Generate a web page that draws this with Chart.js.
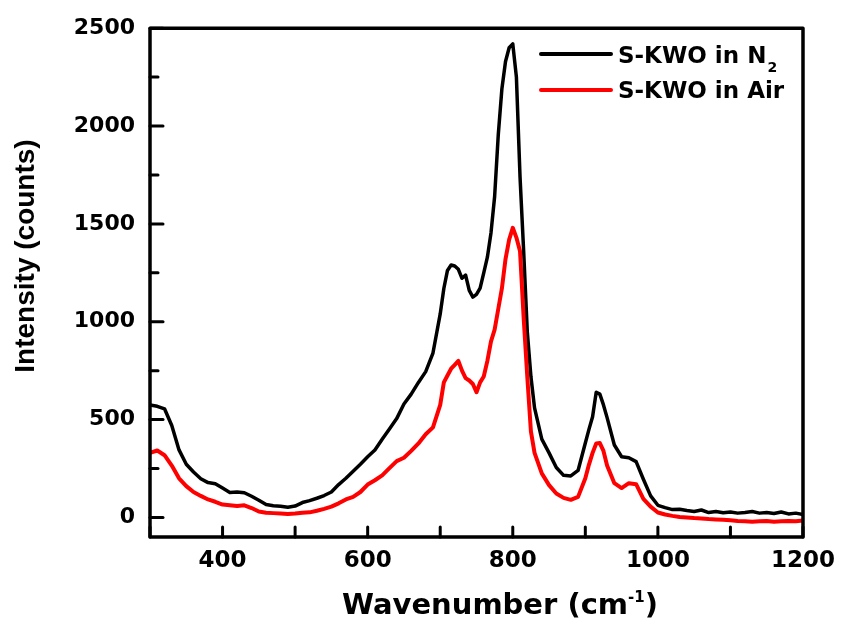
<!DOCTYPE html>
<html>
<head>
<meta charset="utf-8">
<script src="https://cdn.jsdelivr.net/npm/chart.js@4"></script>
<style>
  html, body { margin: 0; padding: 0; background: #fff; }
  #wrap { width: 845px; height: 624px; position: relative; }
</style>
</head>
<body>
<div id="wrap"><canvas id="ramanChart"></canvas></div>
<script>
// Raman spectra, wavenumber in cm-1
const wavenumbers = [
  300, 310, 320, 330, 340, 350, 360, 370, 380, 390,
  400, 410, 420, 430, 440, 450, 460, 470, 480, 490,
  500, 510, 520, 530, 540, 550, 560, 570, 580, 590,
  600, 610, 620, 630, 640, 650, 660, 670, 680, 690,
  700, 705, 710, 715, 720, 725, 730, 735, 740, 745,
  750, 755, 760, 765, 770, 775, 780, 785, 790, 795,
  800, 805, 810, 815, 820, 825, 830,
  840, 850, 860, 870, 880, 890,
  900, 905, 910, 915, 920, 925, 930,
  940, 950, 960, 970, 980, 990, 1000, 1010, 1020, 1030,
  1040, 1050, 1060, 1070, 1080, 1090, 1100, 1110, 1120, 1130,
  1140, 1150, 1160, 1170, 1180, 1190, 1200,
];

const countsN2 = [
  575, 568, 555, 470, 345, 272, 232, 198, 178, 172,
  150, 128, 130, 126, 108, 88, 66, 60, 57, 52,
  58, 76, 86, 98, 112, 130, 168, 200, 236, 272,
  310, 345, 400, 452, 505, 580, 630, 690, 745, 840,
  1040, 1170, 1262, 1290, 1285, 1268, 1222, 1238, 1160, 1126,
  1140, 1172, 1250, 1330, 1455, 1640, 1955, 2190, 2330, 2400,
  2420, 2250, 1740, 1360, 950, 720, 560,
  400, 330, 255, 215, 212, 240,
  380, 450, 515, 640, 630, 575, 510,
  370, 310, 305, 285, 195, 110, 62, 50, 40, 42,
  35, 30, 38, 25, 30, 24, 28, 22, 25, 30,
  22, 25, 20, 28, 18, 22, 15,
];

const countsAir = [
  330, 342, 318, 265, 200, 160, 130, 110, 92, 80,
  66, 62, 58, 62, 48, 30, 24, 22, 20, 18,
  20, 24, 26, 34, 44, 55, 72, 92, 105, 130,
  168, 190, 215, 252, 288, 305, 340, 378, 425, 460,
  575, 690, 725, 760, 780, 800, 750, 712, 700, 682,
  640, 690, 720, 800, 900, 960, 1065, 1170, 1320, 1420,
  1480, 1430, 1360, 1020, 720, 440, 330,
  225, 165, 122, 100, 90, 105,
  200, 270, 330, 378, 380, 340, 265,
  175, 150, 175, 170, 95, 55, 25, 15, 8, 2,
  0, -3, -5, -8, -10, -12, -15, -18, -20, -22,
  -20, -18, -22, -20, -18, -20, -15,
];

const xTicks = [300, 400, 500, 600, 700, 800, 900, 1000, 1100, 1200];
const yTicks = [0, 250, 500, 750, 1000, 1250, 1500, 1750, 2000, 2250, 2500];

const legendItems = [
  { text: 'S-KWO in N', sub: '2', color: '#000000' },
  { text: 'S-KWO in Air', sub: '', color: '#ff0000' },
];

const toPoints = (ys) => wavenumbers.map((x, i) => ({ x, y: ys[i] }));

// frame, inward ticks, axis titles and legend
const decorations = {
  id: 'decorations',
  afterDatasetsDraw(chart) {
    const { ctx, chartArea } = chart;
    const { left, right, top, bottom } = chartArea;
    const xs = chart.scales.x;
    const ys = chart.scales.y;

    ctx.save();
    ctx.strokeStyle = '#000';
    ctx.lineCap = 'round';

    // ticks point into the plot
    ctx.lineWidth = 3;
    xTicks.forEach((v) => {
      const px = xs.getPixelForValue(v);
      ctx.beginPath();
      ctx.moveTo(px, bottom);
      ctx.lineTo(px, bottom - 10);
      ctx.stroke();
    });
    yTicks.forEach((v) => {
      const py = ys.getPixelForValue(v);
      const len = v % 500 === 0 ? 13 : 8;
      ctx.beginPath();
      ctx.moveTo(left, py);
      ctx.lineTo(left + len, py);
      ctx.stroke();
    });

    ctx.lineWidth = 3.5;
    ctx.lineJoin = 'round';
    ctx.strokeRect(left, top, right - left, bottom - top);

    // legend
    ctx.textBaseline = 'alphabetic';
    ctx.textAlign = 'left';
    const rows = [
      { line: 54, base: 63 },
      { line: 90, base: 98 },
    ];
    legendItems.forEach((item, i) => {
      ctx.strokeStyle = item.color;
      ctx.lineWidth = 4;
      ctx.beginPath();
      ctx.moveTo(541, rows[i].line);
      ctx.lineTo(611, rows[i].line);
      ctx.stroke();
      ctx.fillStyle = '#000';
      ctx.font = 'bold 23px "DejaVu Sans"';
      ctx.fillText(item.text, 618, rows[i].base);
      if (item.sub) {
        const w = ctx.measureText(item.text).width;
        ctx.font = 'bold 14px "DejaVu Sans"';
        ctx.fillText(item.sub, 618 + w + 1, rows[i].base + 9);
      }
    });

    // x title with superscript
    ctx.fillStyle = '#000';
    const main = 'Wavenumber (cm';
    const sup = '-1';
    const tail = ')';
    ctx.font = 'bold 29px "DejaVu Sans"';
    const wMain = ctx.measureText(main).width;
    const wTail = ctx.measureText(tail).width;
    ctx.font = 'bold 15px "DejaVu Sans"';
    const wSup = ctx.measureText(sup).width;
    let tx = 500 - (wMain + wSup + wTail) / 2;
    ctx.font = 'bold 29px "DejaVu Sans"';
    ctx.fillText(main, tx, 614);
    tx += wMain;
    ctx.font = 'bold 15px "DejaVu Sans"';
    ctx.fillText(sup, tx, 602);
    tx += wSup;
    ctx.font = 'bold 29px "DejaVu Sans"';
    ctx.fillText(tail, tx, 614);

    // y title
    ctx.translate(26, 256);
    ctx.rotate(-Math.PI / 2);
    ctx.textAlign = 'center';
    ctx.textBaseline = 'middle';
    ctx.font = 'bold 28px "Liberation Sans"';
    ctx.fillText('Intensity (counts)', 0, 0);
    ctx.restore();
  },
};

new Chart(document.getElementById('ramanChart'), {
  type: 'line',
  data: {
    datasets: [
      {
        label: 'S-KWO in N₂',
        data: toPoints(countsN2),
        borderColor: '#000000',
        borderWidth: 3.5,
        pointRadius: 0,
        tension: 0,
        order: 1,
      },
      {
        label: 'S-KWO in Air',
        data: toPoints(countsAir),
        borderColor: '#ff0000',
        borderWidth: 4,
        pointRadius: 0,
        tension: 0,
        order: 0,
      },
    ],
  },
  options: {
    responsive: true,
    maintainAspectRatio: false,
    animation: false,
    borderJoinStyle: 'round',
    layout: { padding: { left: 0, top: 24, right: 40, bottom: 0 } },
    plugins: {
      legend: { display: false },
      tooltip: { enabled: false },
    },
    scales: {
      x: {
        type: 'linear',
        min: 300,
        max: 1200,
        grid: { display: false, drawTicks: false },
        border: { display: false },
        afterBuildTicks: (s) => { s.ticks = xTicks.map((value) => ({ value })); },
        afterFit: (s) => { s.height = 87; },
        ticks: {
          autoSkip: false,
          maxRotation: 0,
          padding: 10,
          color: '#000',
          font: { family: 'DejaVu Sans', size: 23, weight: 'bold' },
          callback: (v) => (v % 200 === 0 ? v : ''),
        },
      },
      y: {
        min: -100,
        max: 2500,
        grid: { display: false, drawTicks: false },
        border: { display: false },
        afterBuildTicks: (s) => { s.ticks = yTicks.map((value) => ({ value })); },
        afterFit: (s) => { s.width = 150; },
        ticks: {
          autoSkip: false,
          padding: 15,
          color: '#000',
          font: { family: 'DejaVu Sans', size: 22, weight: 'bold' },
          callback: (v) => (v % 500 === 0 ? v : ''),
        },
      },
    },
  },
  plugins: [decorations],
});
</script>
</body>
</html>
